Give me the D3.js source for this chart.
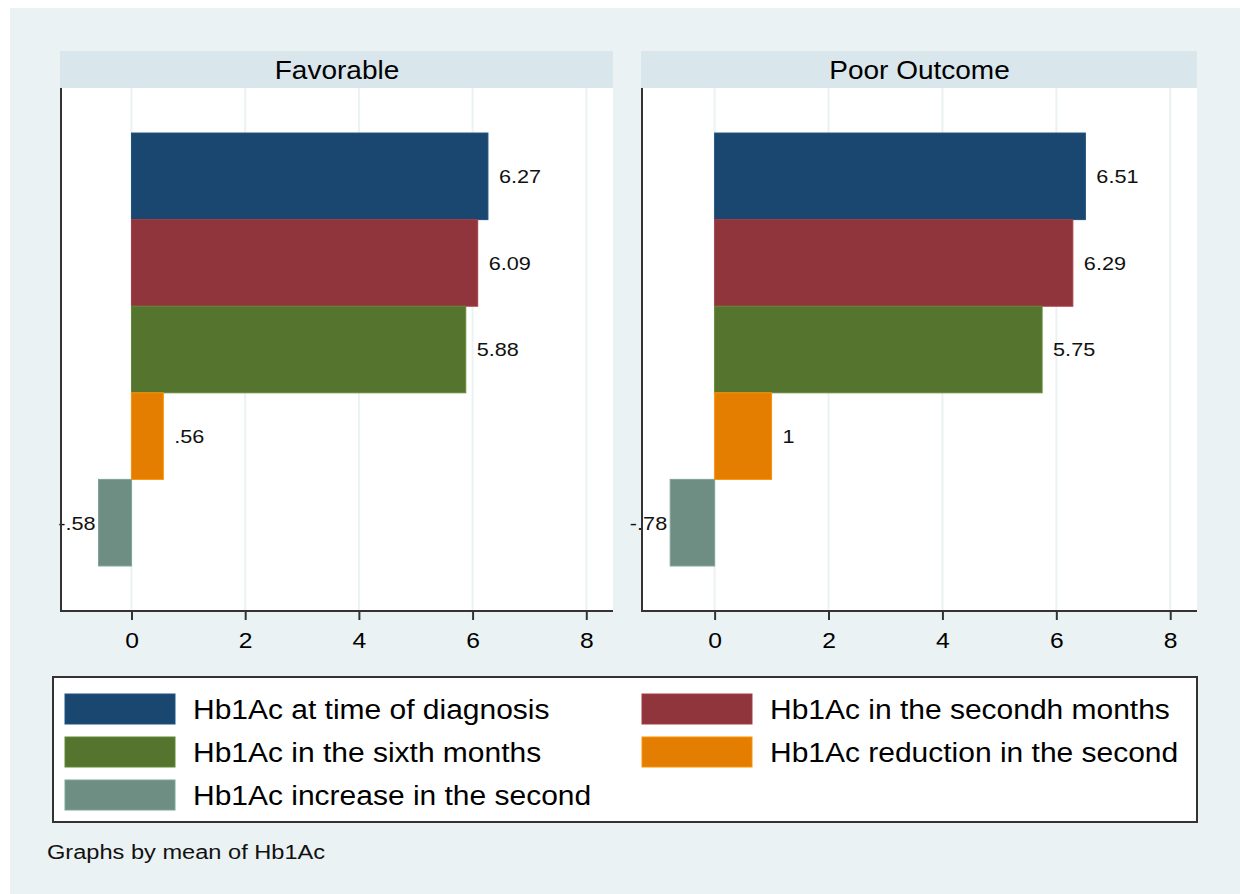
<!DOCTYPE html>
<html>
<head>
<meta charset="utf-8">
<script src="https://cdn.jsdelivr.net/npm/d3@7"></script>
<style>
  body { margin: 0; background: #fff; }
  svg { display: block; font-family: "Liberation Sans", Arial, sans-serif; }
</style>
</head>
<body>
<div id="chart"></div>
<script>
// data
const groups = ["Favorable", "Poor Outcome"];
const series = [
    "Hb1Ac at time of diagnosis",
    "Hb1Ac in the secondh months",
    "Hb1Ac in the sixth months",
    "Hb1Ac reduction in the second",
    "Hb1Ac increase in the second"
];
const favorableValues = [6.27, 6.09, 5.88, 0.56, -0.58];
const poorValues = [6.51, 6.29, 5.75, 1, -0.78];
const xTicks = [0, 2, 4, 6, 8];
const colors = ["#1a476f", "#90353b", "#55752f", "#e37e00", "#6e8e84"];

const values = [favorableValues, poorValues];

const width = 1240, height = 894;
const svg = d3.select("#chart").append("svg")
    .attr("width", width)
    .attr("height", height);

// the source picture is a bit wider than tall, stretch text to match
function stretch(sel, k) {
    sel.each(function () {
        const w = this.getComputedTextLength();
        d3.select(this)
            .attr("textLength", w * k)
            .attr("lengthAdjust", "spacingAndGlyphs");
    });
}

// graph region
svg.append("rect")
    .attr("x", 10).attr("y", 8)
    .attr("width", width - 10).attr("height", height - 8)
    .attr("fill", "#eaf2f3");

const panels = [
    { x0: 61, x1: 613, pad: 0 },
    { x0: 642, x1: 1197, pad: 2 }
];
const headTop = 51, plotTop = 88, plotBottom = 611;

// stata style number labels: .56, -.58, 1
function fmt(v) {
    let s = String(+v.toFixed(2));
    return s.replace(/^(-?)0\./, "$1.");
}

panels.forEach(function (p, gi) {
    const g = svg.append("g");

    const x = d3.scaleLinear()
        .domain([-1.24, 8.47])
        .range([p.x0 + p.pad, p.x1]);

    const y = d3.scaleBand()
        .domain(series)
        .range([plotTop, plotBottom])
        .paddingInner(0)
        .paddingOuter(0.52);

    // header strip
    g.append("rect")
        .attr("x", p.x0 - 1).attr("y", headTop)
        .attr("width", p.x1 - p.x0 + 1).attr("height", plotTop - headTop)
        .attr("fill", "#d9e6eb");
    g.append("text")
        .attr("x", (p.x0 + p.x1) / 2)
        .attr("y", (headTop + plotTop) / 2)
        .attr("dy", "0.36em")
        .attr("text-anchor", "middle")
        .attr("font-size", "25px")
        .attr("fill", "#000")
        .text(groups[gi])
        .call(stretch, 1.12);

    // plot region
    g.append("rect")
        .attr("x", p.x0).attr("y", plotTop)
        .attr("width", p.x1 - p.x0).attr("height", plotBottom - plotTop)
        .attr("fill", "#fff");

    // grid
    g.selectAll(".grid")
        .data(xTicks)
        .join("line")
        .attr("class", "grid")
        .attr("x1", d => x(d)).attr("x2", d => x(d))
        .attr("y1", plotTop).attr("y2", plotBottom)
        .attr("stroke", "#eaf2f3")
        .attr("stroke-width", 2);

    // bars
    const data = series.map((s, i) => ({ name: s, value: values[gi][i], color: colors[i] }));

    g.selectAll(".bar")
        .data(data)
        .join("rect")
        .attr("class", "bar")
        .attr("x", d => x(Math.min(0, d.value)))
        .attr("y", d => y(d.name))
        .attr("width", d => Math.abs(x(d.value) - x(0)))
        .attr("height", y.bandwidth())
        .attr("fill", d => d.color)
        .attr("stroke", d => d3.color(d.color).brighter(0.4))
        .attr("stroke-width", 1);

    g.selectAll(".blabel")
        .data(data)
        .join("text")
        .attr("class", "blabel")
        .attr("x", d => d.value >= 0 ? x(d.value) + 11 : x(d.value) - 3)
        .attr("y", d => y(d.name) + y.bandwidth() / 2)
        .attr("dy", "0.36em")
        .attr("text-anchor", d => d.value >= 0 ? "start" : "end")
        .attr("font-size", "19px")
        .attr("fill", "#111")
        .text(d => fmt(d.value))
        .call(stretch, 1.14);

    // x axis
    const axis = g.append("g")
        .attr("transform", `translate(0,${plotBottom})`)
        .call(d3.axisBottom(x).tickValues(xTicks).tickSize(9).tickPadding(12).tickSizeOuter(0));
    axis.select(".domain")
        .attr("d", `M${p.x0},0H${p.x1}`)
        .attr("stroke", "#333").attr("stroke-width", 2);
    axis.selectAll(".tick line").attr("stroke", "#333").attr("stroke-width", 2);
    axis.selectAll(".tick text")
        .attr("font-size", "22px")
        .attr("font-family", "Liberation Sans, Arial, sans-serif")
        .attr("fill", "#000")
        .call(stretch, 1.12);

    // y axis line
    g.append("line")
        .attr("x1", p.x0).attr("x2", p.x0)
        .attr("y1", plotTop).attr("y2", plotBottom + 1)
        .attr("stroke", "#333").attr("stroke-width", 2);
});

// legend
const legend = svg.append("g");
legend.append("rect")
    .attr("x", 53).attr("y", 677)
    .attr("width", 1144).attr("height", 145)
    .attr("fill", "#fff")
    .attr("stroke", "#333")
    .attr("stroke-width", 2);

const legCols = [65, 642], rowY = [709, 752, 795];
series.forEach(function (s, i) {
    const cx = legCols[i % 2], cy = rowY[Math.floor(i / 2)];
    legend.append("rect")
        .attr("x", cx).attr("y", cy - 15)
        .attr("width", 110).attr("height", 30)
        .attr("fill", colors[i])
        .attr("stroke", d3.color(colors[i]).brighter(0.4));
    legend.append("text")
        .attr("x", cx + 128).attr("y", cy)
        .attr("dy", "0.36em")
        .attr("font-size", "27px")
        .attr("fill", "#000")
        .text(s)
        .call(stretch, 1.11);
});

svg.append("text")
    .attr("x", 47).attr("y", 852)
    .attr("dy", "0.36em")
    .attr("font-size", "20px")
    .attr("fill", "#111")
    .text("Graphs by mean of Hb1Ac")
    .call(stretch, 1.18);
</script>
</body>
</html>
